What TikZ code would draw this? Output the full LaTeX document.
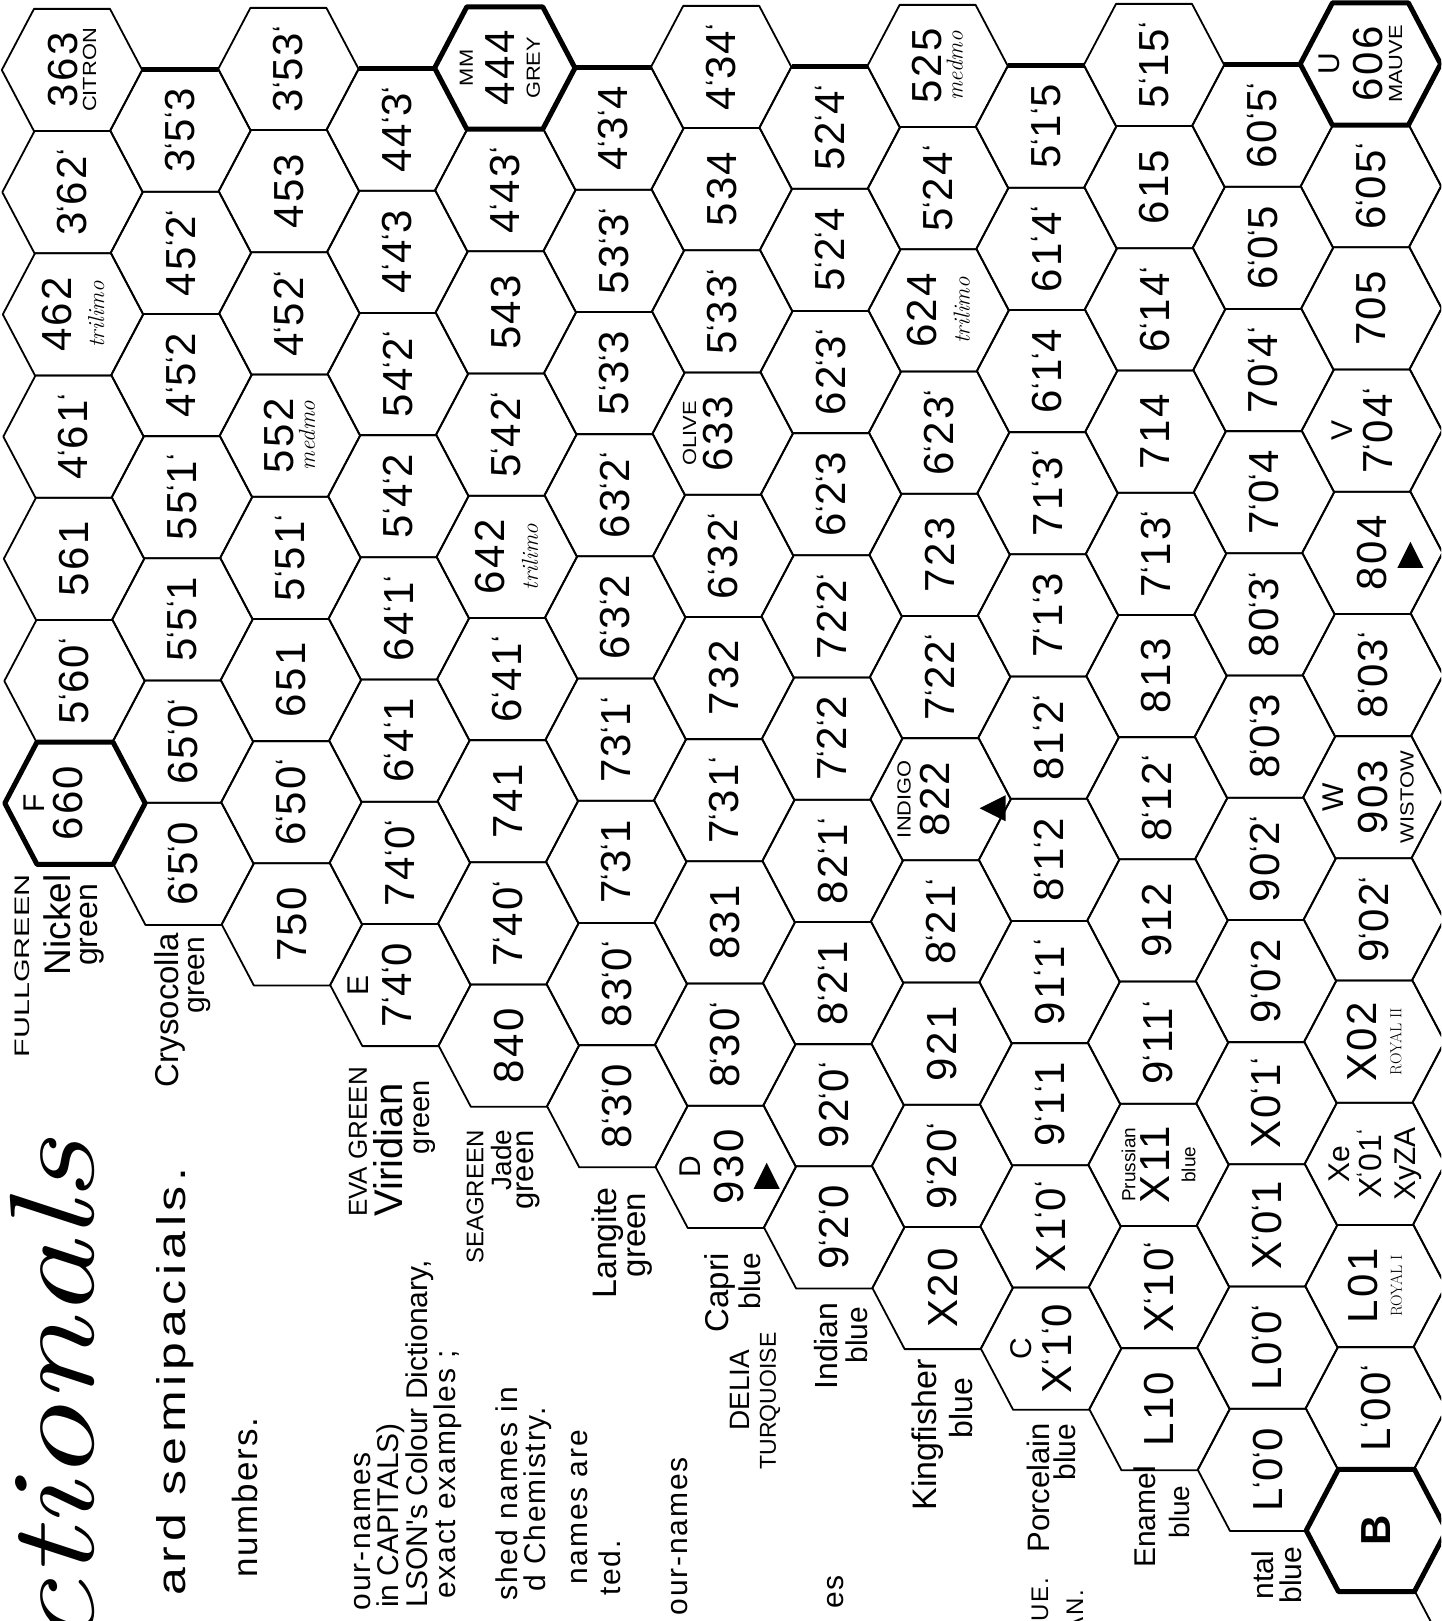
\documentclass[tikz,border=0pt]{standalone}
\usepackage{fontspec}
\usepackage{graphicx}
\newfontfamily\grot{Liberation Sans}
\newfontfamily\bodyf{Liberation Sans}[LetterSpace=6]
\newfontfamily\numf{Liberation Sans}[LetterSpace=6]
\newfontfamily\widef{Liberation Sans}[FakeStretch=1.45]
\newfontfamily\capf{Liberation Sans}[FakeStretch=1.15]
\newfontfamily\semif{Liberation Sans}[FakeStretch=1.25,LetterSpace=12]
\newcommand\fsz[1]{\fontsize{#1}{#1}\selectfont}
\newcommand\hmk{\textsuperscript{‘}}
\newcommand\hcap{\capf\fsz{19}}
\newcommand\hit{\rmfamily\itshape\fsz{23}}
\newcommand\hlet{\grot\fsz{30}}
\newcommand\hsm{\grot\fsz{19}}
\newcommand\hroy{\rmfamily\fsz{16}}
% sideways nudge of a few crowded cells
\newcommand\setshift[2]{\expandafter\def\csname sh#1\endcsname{#2}}
\setshift{0-6}{-22}\setshift{6-9}{-14}\setshift{4-0}{-5}\setshift{12-0}{-10}
\setshift{12-6}{-5}\setshift{12-3}{-10}\setshift{6-3}{-15}\setshift{8-6}{-17}
\setshift{3-7}{-20}\setshift{9-10}{-10}
\usetikzlibrary{calc}
\tikzset{
  hexline/.style={line width=1.8pt, line join=round},
  hexbold/.style={line width=5pt, line join=round},
  hexcell/.pic={
    \draw[hexline] (-70.2pt,0pt) -- (-38pt,61.1pt) -- (38pt,61.1pt) -- (70.2pt,0pt)
      -- (38pt,-61.1pt) -- (-38pt,-61.1pt) -- cycle;
  },
  hexcellb/.pic={
    \draw[hexbold] (-70.2pt,0pt) -- (-38pt,61.1pt) -- (38pt,61.1pt) -- (70.2pt,0pt)
      -- (38pt,-61.1pt) -- (-38pt,-61.1pt) -- cycle;
  },
  tri/.pic={
    \fill (0pt,13pt) -- (-13pt,-13pt) -- (13pt,-13pt) -- cycle;
  },
  num/.style={rotate=90, inner sep=0pt, align=center, font=\numf\fsz{42}},
  tag/.style={rotate=90, inner sep=0pt, font=\grot}
}

\begin{document}
\begin{tikzpicture}[x=1pt, y=-1pt]
  \useasboundingbox (0,0) rectangle (1441,1621);
  \fill[white] (0,0) rectangle (1441,1621);
  \clip (0,0) rectangle (1441,1621);

  % the honeycomb
  \begin{scope}[shift={(72pt,-70pt)}, x={(108.2pt,0.5pt)}, y={(0.5pt,-122.2pt)}]
    \foreach \c/\n in {0/6,1/6,2/7,3/7,4/8,5/8,6/9,7/9,8/10,9/10,10/11,11/11,12/12,13/12}
      \foreach \r in {0,...,\n} {
        \pgfmathsetmacro\rr{\r+0.5*mod(\c,2)}
        \coordinate (c-\c-\r) at (\c,\rr);
        \pic at (c-\c-\r) {hexcell};
      }
  \end{scope}
  \pic at (c-0-6) {hexcellb};
  \pic at (c-4-0) {hexcellb};
  \pic at (c-12-0) {hexcellb};
  \pic at (c-12-12) {hexcellb};
  \foreach \c in {1,3,...,13}
    \draw[hexbold] ([xshift=-38pt,yshift=61.1pt]c-\c-0) -- ([xshift=38pt,yshift=61.1pt]c-\c-0);

  % cell numbers
  \foreach \c/\l in {
    0/{{363\\[-23pt]{\hcap CITRON}},3\hmk62\hmk,{462\\[-9pt]{\hit trilimo}},4\hmk61\hmk,561,5\hmk60\hmk,{{\hlet F}\\[-4pt]660}},
    1/{3\hmk5\hmk3,45\hmk2\hmk,4\hmk5\hmk2,55\hmk1\hmk,5\hmk5\hmk1,65\hmk0\hmk,6\hmk5\hmk0},
    2/{3\hmk53\hmk,453,4\hmk52\hmk,{552\\[-21pt]{\hit medmo}},5\hmk51\hmk,651,6\hmk50\hmk,750},
    3/{44\hmk3\hmk,4\hmk4\hmk3,54\hmk2\hmk,5\hmk4\hmk2,64\hmk1\hmk,6\hmk4\hmk1,74\hmk0\hmk,{{\hlet E}\\[1pt]7\hmk4\hmk0}},
    4/{{{\hcap MM}\\[0pt]444\\[-17pt]{\hcap GREY}},4\hmk43\hmk,543,5\hmk42\hmk,{642\\[-9pt]{\hit trilimo}},6\hmk41\hmk,741,7\hmk40\hmk,840},
    5/{4\hmk3\hmk4,53\hmk3\hmk,5\hmk3\hmk3,63\hmk2\hmk,6\hmk3\hmk2,73\hmk1\hmk,7\hmk3\hmk1,83\hmk0\hmk,8\hmk3\hmk0},
    6/{4\hmk34\hmk,534,5\hmk33\hmk,{{\hcap OLIVE}\\[-6pt]633},6\hmk32\hmk,732,7\hmk31\hmk,831,8\hmk30\hmk,{{\hlet D}\\[1pt]930}},
    7/{52\hmk4\hmk,5\hmk2\hmk4,62\hmk3\hmk,6\hmk2\hmk3,72\hmk2\hmk,7\hmk2\hmk2,82\hmk1\hmk,8\hmk2\hmk1,92\hmk0\hmk,9\hmk2\hmk0},
    8/{{525\\[-21pt]{\hit medmo}},5\hmk24\hmk,{624\\[-9pt]{\hit trilimo}},6\hmk23\hmk,723,7\hmk22\hmk,{{\hcap INDIGO}\\[-3pt]822},8\hmk21\hmk,921,9\hmk20\hmk,X20},
    9/{5\hmk1\hmk5,61\hmk4\hmk,6\hmk1\hmk4,71\hmk3\hmk,7\hmk1\hmk3,81\hmk2\hmk,8\hmk1\hmk2,91\hmk1\hmk,9\hmk1\hmk1,X1\hmk0\hmk,{{\hlet C}\\[-2pt]X\hmk1\hmk0}},
    10/{5\hmk15\hmk,615,6\hmk14\hmk,714,7\hmk13\hmk,813,8\hmk12\hmk,912,9\hmk11\hmk,{{\hsm Prussian}\\[-8pt]X11\\[-16pt]{\hsm blue}},X\hmk10\hmk,L10},
    11/{60\hmk5\hmk,6\hmk0\hmk5,70\hmk4\hmk,7\hmk0\hmk4,80\hmk3\hmk,8\hmk0\hmk3,90\hmk2\hmk,9\hmk0\hmk2,X0\hmk1\hmk,X\hmk0\hmk1,L0\hmk0\hmk,L\hmk0\hmk0},
    12/{{{\hlet U}\\[1pt]606\\[-22pt]{\hcap MAUVE}},6\hmk05\hmk,705,{{\hlet V}\\[-2pt]7\hmk04\hmk},804,8\hmk03\hmk,{{\hlet W}\\[2pt]903\\[-16pt]{\hcap WISTOW}},9\hmk02\hmk,{X02\\[-17pt]{\hroy ROYAL II}},{{\hlet Xe}\\[-10pt]{\numf\fsz{32}X\hmk01\hmk}\\[-8pt]{\hlet XyZA}},{L01\\[-18pt]{\hroy ROYAL I}},L\hmk00\hmk,{\bfseries B}}}
    \foreach \t [count=\r from 0] in \l {
      \ifcsname sh\c-\r\endcsname \edef\sx{\csname sh\c-\r\endcsname}\else\def\sx{0}\fi
      \node[xshift=\sx pt, num] (n-\c-\r) at (c-\c-\r) {\t};
    }

  \pic at ([xshift=41pt,yshift=-9pt]c-6-9) {tri};
  \pic[rotate=90] at ([xshift=52pt,yshift=-9pt]c-8-6) {tri};
  \pic at ([xshift=38pt,yshift=-2pt]c-12-4) {tri};

  % names along the lower edge
  \node[tag, font=\widef\fsz{21}] (fullgreen) at (22,966) {FULLGREEN};
  \node[tag, font=\grot\fsz{37}] (nickel) at (57,925) {Nickel};
  \node[tag, font=\grot\fsz{32}] (nickel-g) at (92,925) {green};
  \node[tag, font=\grot\fsz{33}] (cryso) at (170,1010) {Crysocolla};
  \node[tag, font=\grot\fsz{30}] (cryso-g) at (200,975) {green};
  \node[tag, font=\grot\fsz{26}] (evagreen) at (358,1142) {EVA GREEN};
  \node[tag, font=\grot\fsz{40}] (viridian) at (388,1150) {Viridian};
  \node[tag, font=\grot\fsz{29}] (viridian-g) at (425,1117) {green};
  \node[tag, font=\grot\fsz{24}] (seagreen) at (475,1197) {SEAGREEN};
  \node[tag, font=\grot\fsz{28}] (jade) at (501,1160) {Jade};
  \node[tag, font=\grot\fsz{31}] (jade-g) at (528,1170) {green};
  \node[tag, font=\grot\fsz{34}] (langite) at (608,1243) {Langite};
  \node[tag, font=\grot\fsz{33}] (langite-g) at (640,1235) {green};
  \node[tag, font=\grot\fsz{33}] (capri) at (720,1293) {Capri};
  \node[tag, font=\grot\fsz{30}] (capri-b) at (750,1281) {blue};
  \node[tag, font=\grot\fsz{28}] (delia) at (740,1390) {DELIA};
  \node[tag, font=\grot\fsz{23}] (turq) at (770,1401) {TURQUOISE};
  \node[tag, font=\grot\fsz{32}] (indian) at (826,1346) {Indian};
  \node[tag, font=\grot\fsz{30}] (indian-b) at (857,1335) {blue};
  \node[tag, font=\grot\fsz{34}] (kingf) at (928,1435) {Kingfisher};
  \node[tag, font=\grot\fsz{32}] (kingf-b) at (961,1408) {blue};
  \node[tag, font=\grot\fsz{31}] (porc) at (1038,1488) {Porcelain};
  \node[tag, font=\grot\fsz{30}] (porc-b) at (1065,1452) {blue};
  \node[tag, font=\grot\fsz{30}] (enamel) at (1145,1517) {Enamel};
  \node[tag, font=\grot\fsz{28}] (enamel-b) at (1179,1512) {blue};
  \node[tag, font=\grot\fsz{30}, anchor=base east] (ntal) at (1273,1551) {ntal};
  \node[tag, font=\grot\fsz{30}] (ntal-b) at (1291,1575) {blue};

  % page text, cut by the edge
  \node[tag, anchor=base east, font=\rmfamily\itshape\fsz{120}] (head) at (93,1140) {\scalebox{1.3}[1]{ctionals}};
  \node[tag, anchor=base east, font=\semif\fsz{40}] (t1) at (185,1167) {ard semipacials.};
  \node[tag, anchor=base east, font=\bodyf\fsz{35}] (t2) at (257,1417) {numbers.};
  \node[tag, anchor=base east, font=\bodyf\fsz{30}] (t3) at (370,1452) {our-names};
  \node[tag, anchor=base east, font=\grot\fsz{30}] (t4) at (398,1423) {in CAPITALS)};
  \node[tag, anchor=base east, font=\grot\fsz{30}] (t5) at (427,1260) {LSON's Colour Dictionary,};
  \node[tag, anchor=base east, font=\bodyf\fsz{30}] (t6) at (455,1350) {exact examples ;};
  \node[tag, anchor=base east, font=\bodyf\fsz{30}] (t7) at (517,1387) {shed names in};
  \node[tag, anchor=base east, font=\bodyf\fsz{30}] (t8) at (545,1407) {d Chemistry.};
  \node[tag, anchor=base east, font=\bodyf\fsz{30}] (t9) at (587,1430) {names are};
  \node[tag, anchor=base east, font=\bodyf\fsz{30}] (t10) at (620,1540) {ted.};
  \node[tag, anchor=base east, font=\bodyf\fsz{30}] (t11) at (687,1457) {our-names};
  \node[tag, anchor=base east, font=\bodyf\fsz{30}] (t12) at (843,1575) {es};
  \node[tag, anchor=base east, font=\bodyf\fsz{24}] (t13) at (1048,1578) {UE.};
  \node[tag, anchor=base east, font=\bodyf\fsz{24}] (t14) at (1083,1590) {AN.};
\end{tikzpicture}
\end{document}
